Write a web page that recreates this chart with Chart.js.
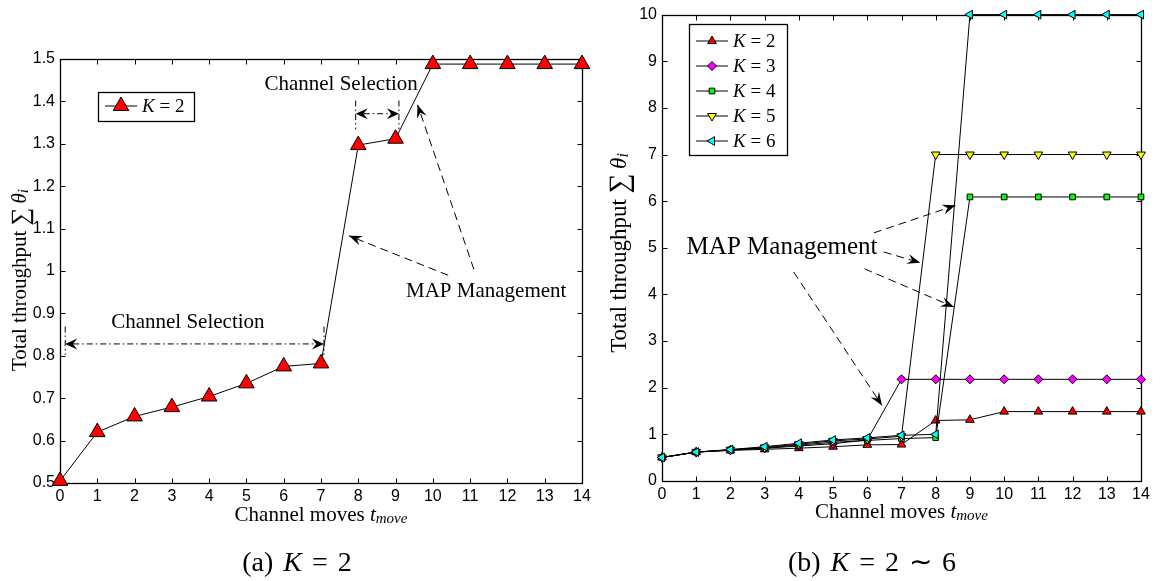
<!DOCTYPE html>
<html>
<head>
<meta charset="utf-8">
<script src="https://cdn.jsdelivr.net/npm/chart.js"></script>
<style>
  body { margin: 0; width: 1166px; height: 581px; background: #fff; position: relative; overflow: hidden; }
  canvas { position: absolute; top: 0; }
  #chartA { left: 0; }
  #chartB { left: 600px; }
  .cap { position: absolute; top: 547px; width: 300px; text-align: center; font-family: "Liberation Serif", serif; font-size: 28px; line-height: 30px; word-spacing: 3px; color: #000; }
</style>
</head>
<body>
<canvas id="chartA" width="600" height="581"></canvas>
<canvas id="chartB" width="566" height="581"></canvas>
<div class="cap" style="left:147px">(a) <i>K</i> = 2</div>
<div class="cap" style="left:722px">(b) <i>K</i> = 2 &#8764; 6</div>
<script>
// channel moves on the x axis
var moves = [0, 1, 2, 3, 4, 5, 6, 7, 8, 9, 10, 11, 12, 13, 14];
var yTicksA = [0.5, 0.6, 0.7, 0.8, 0.9, 1.0, 1.1, 1.2, 1.3, 1.4, 1.5];
var yTicksB = [0, 1, 2, 3, 4, 5, 6, 7, 8, 9, 10];

// total throughput per K
var k2 = [0.505, 0.62, 0.657, 0.679, 0.704, 0.735, 0.775, 0.782, 1.297, 1.312, 1.488, 1.488, 1.488, 1.488, 1.488];
var k3 = [0.505, 0.62, 0.66, 0.70, 0.75, 0.80, 0.88, 2.18, 2.18, 2.18, 2.18, 2.18, 2.18, 2.18, 2.18];
var k4 = [0.505, 0.62, 0.665, 0.71, 0.77, 0.83, 0.87, 0.91, 0.93, 6.09, 6.09, 6.09, 6.09, 6.09, 6.09];
var k5 = [0.505, 0.62, 0.67, 0.72, 0.79, 0.86, 0.90, 0.96, 7.0, 7.0, 7.0, 7.0, 7.0, 7.0, 7.0];
var k6 = [0.505, 0.62, 0.675, 0.735, 0.81, 0.88, 0.925, 0.98, 1.0, 10, 10, 10, 10, 10, 10];

var serif = '"Liberation Serif", serif';
Chart.defaults.font.family = '"Liberation Sans", Arial, sans-serif';
Chart.defaults.color = '#000';

function pts(vals) {
    return moves.map(function (m, i) { return { x: m, y: vals[i] }; });
}

function series(label, vals, fill, style, rot, r, order) {
    return {
        label: label, data: pts(vals), order: order,
        borderColor: '#000', borderWidth: 1, clip: false,
        pointStyle: style, pointRotation: rot, pointRadius: r,
        pointBackgroundColor: fill, pointBorderColor: '#000', pointBorderWidth: 1
    };
}

// draws parts of text one after another: [text, font, dy]
function richText(ctx, parts, x, y, align) {
    var w = 0;
    parts.forEach(function (p) { ctx.font = p[1]; w += ctx.measureText(p[0]).width; });
    var cx = align === 'center' ? x - w / 2 : x;
    ctx.textBaseline = 'middle';
    ctx.textAlign = 'left';
    parts.forEach(function (p) {
        ctx.font = p[1];
        ctx.fillText(p[0], cx, y + (p[2] || 0));
        cx += ctx.measureText(p[0]).width;
    });
}

function head(ctx, x0, y0, x1, y1, len, wid) {
    var a = Math.atan2(y1 - y0, x1 - x0);
    ctx.save();
    ctx.translate(x1, y1);
    ctx.rotate(a);
    ctx.setLineDash([]);
    ctx.beginPath();
    ctx.moveTo(0, 0);
    ctx.lineTo(-len, -wid / 2);
    ctx.lineTo(-len * 0.65, 0);
    ctx.lineTo(-len, wid / 2);
    ctx.closePath();
    ctx.fill();
    ctx.restore();
}

var decor = {
    id: 'decor',
    beforeDatasetsDraw: function (chart) {
        var ctx = chart.ctx, a = chart.chartArea;
        var sx = chart.scales.x, sy = chart.scales.y;
        var l = Math.round(a.left) + 0.5, r = Math.round(a.right) + 0.5;
        var t = Math.round(a.top) + 0.5, b = Math.round(a.bottom) + 0.5;
        ctx.save();
        ctx.strokeStyle = '#000';
        ctx.lineWidth = 1;
        ctx.beginPath();
        sx.ticks.forEach(function (tk) {
            var px = Math.round(sx.getPixelForValue(tk.value)) + 0.5;
            ctx.moveTo(px, b); ctx.lineTo(px, b - 5);
            ctx.moveTo(px, t); ctx.lineTo(px, t + 5);
        });
        sy.ticks.forEach(function (tk) {
            var py = Math.round(sy.getPixelForValue(tk.value)) + 0.5;
            ctx.moveTo(l, py); ctx.lineTo(l + 5, py);
            ctx.moveTo(r, py); ctx.lineTo(r - 5, py);
        });
        ctx.stroke();
        ctx.lineWidth = 1.3;
        ctx.strokeRect(l, t, r - l, b - t);
        ctx.restore();
    },
    afterDatasetsDraw: function (chart, args, o) {
        var ctx = chart.ctx, a = chart.chartArea;
        var sx = chart.scales.x, sy = chart.scales.y;
        var X = function (v) { return sx.getPixelForValue(v); };
        var Y = function (v) { return sy.getPixelForValue(v); };
        ctx.save();
        ctx.fillStyle = '#000';
        ctx.strokeStyle = '#000';
        ctx.lineWidth = 1;

        // dashed annotation arrows
        (o.arrows || []).forEach(function (ar) {
            var x0 = X(ar[0]), y0 = Y(ar[1]), x1 = X(ar[2]), y1 = Y(ar[3]);
            ctx.setLineDash([8, 5]);
            ctx.beginPath();
            ctx.moveTo(x0, y0);
            ctx.lineTo(x1, y1);
            ctx.stroke();
            head(ctx, x0, y0, x1, y1, 13, 10);
        });

        // dimension arrows (channel selection)
        (o.spans || []).forEach(function (sp) {
            var x0 = X(sp[0]), x1 = X(sp[1]), y = Y(sp[2]), yt = Y(sp[3]), yb = Y(sp[4]);
            ctx.setLineDash([6, 3, 1.5, 3]);
            ctx.beginPath();
            ctx.moveTo(x0, yt); ctx.lineTo(x0, yb);
            ctx.moveTo(x1, yt); ctx.lineTo(x1, yb);
            ctx.moveTo(x0 + 8, y); ctx.lineTo(x1 - 8, y);
            ctx.stroke();
            head(ctx, x1, y, x0, y, 12, 11);
            head(ctx, x0, y, x1, y, 12, 11);
        });

        // free text
        (o.texts || []).forEach(function (tx) {
            richText(ctx, [[tx[2], tx[3] + 'px ' + serif]], X(tx[0]), Y(tx[1]), 'center');
        });

        // legend box
        var lg = o.legend;
        ctx.setLineDash([]);
        ctx.fillStyle = '#fff';
        ctx.fillRect(lg.x, lg.y, lg.w, lg.h);
        ctx.lineWidth = 1.3;
        ctx.strokeRect(lg.x + 0.5, lg.y + 0.5, lg.w, lg.h);
        chart.data.datasets.forEach(function (ds, i) {
            var cy = lg.y + lg.first + i * lg.step;
            var lx = lg.x + 7, rx = lg.x + 7 + lg.line;
            ctx.strokeStyle = '#000';
            ctx.lineWidth = 1;
            ctx.beginPath();
            ctx.moveTo(lx, cy); ctx.lineTo(rx, cy);
            ctx.stroke();
            ctx.fillStyle = ds.pointBackgroundColor;
            Chart.helpers.drawPoint(ctx, {
                pointStyle: ds.pointStyle, rotation: ds.pointRotation,
                radius: ds.pointRadius, borderWidth: 1
            }, (lx + rx) / 2, cy);
            ctx.fillStyle = '#000';
            var parts = ds.label.split(' ');
            richText(ctx, [
                [parts[0], 'italic ' + lg.size + 'px ' + serif],
                [' ' + parts[1] + ' ' + parts[2], lg.size + 'px ' + serif]
            ], rx + 5, cy + 1, 'left');
        });

        // axis titles with subscripts
        var fs = o.titleSize;
        richText(ctx, [
            ['Channel moves ', fs + 'px ' + serif],
            ['t', 'italic ' + fs + 'px ' + serif],
            ['move', 'italic ' + Math.round(fs * 0.7) + 'px ' + serif, 4]
        ], (a.left + a.right) / 2, a.bottom + o.xTitleGap, 'center');

        var ys = o.yTitleSize;
        ctx.save();
        ctx.translate(o.yTitleX, o.yTitleY);
        ctx.rotate(-Math.PI / 2);
        richText(ctx, [
            ['Total throughput ', ys + 'px ' + serif],
            ['\u2211', Math.round(ys * 1.2) + 'px ' + serif, 1],
            ['\u2009\u03b8', 'italic ' + ys + 'px ' + serif],
            ['i', 'italic ' + Math.round(ys * 0.7) + 'px ' + serif, 4]
        ], 0, 0, 'center');
        ctx.restore();
        ctx.restore();
    }
};

function baseScales(yTicks, yMin, yMax, yw, xh, fmt) {
    return {
        x: {
            type: 'linear', min: 0, max: 14,
            afterBuildTicks: function (s) { s.ticks = moves.map(function (v) { return { value: v }; }); },
            afterFit: function (s) { s.height = xh; },
            grid: { display: false, drawTicks: false },
            border: { display: false },
            ticks: { font: { size: 16 }, padding: 4, autoSkip: false, maxRotation: 0 }
        },
        y: {
            type: 'linear', min: yMin, max: yMax,
            afterBuildTicks: function (s) { s.ticks = yTicks.map(function (v) { return { value: v }; }); },
            afterFit: function (s) { s.width = yw; },
            grid: { display: false, drawTicks: false },
            border: { display: false },
            ticks: { font: { size: 16 }, padding: 5, callback: fmt }
        }
    };
}

var chartA = new Chart(document.getElementById('chartA'), {
    type: 'line',
    data: {
        datasets: [series('K = 2', k2, '#ff0000', 'triangle', 0, 9, 1)]
    },
    options: {
        responsive: false,
        animation: false,
        events: [],
        layout: { padding: { left: 0, top: 59, right: 18, bottom: 0 } },
        scales: baseScales(yTicksA, 0.5, 1.5, 60, 98, function (v) { return String(+v.toFixed(1)); }),
        plugins: {
            legend: { display: false },
            tooltip: { enabled: false },
            decor: {
                arrows: [[10.41, 0.99, 7.75, 1.083], [11.10, 1.004, 9.59, 1.392]],
                spans: [[7.93, 9.09, 1.371, 1.402, 1.334], [0.14, 7.08, 0.828, 0.869, 0.802]],
                texts: [[7.54, 1.439, 'Channel Selection', 21], [3.43, 0.878, 'Channel Selection', 21], [11.43, 0.951, 'MAP Management', 21]],
                legend: { x: 98, y: 92, w: 96, h: 29, first: 14, step: 25, line: 32, size: 19 },
                titleSize: 21, xTitleGap: 32,
                yTitleSize: 21, yTitleX: 20, yTitleY: 280
            }
        }
    },
    plugins: [decor]
});

var chartB = new Chart(document.getElementById('chartB'), {
    type: 'line',
    data: {
        datasets: [
            series('K = 2', k2, '#ff0000', 'triangle', 0, 5, 5),
            series('K = 3', k3, '#ff00ff', 'rectRot', 0, 4.5, 4),
            series('K = 4', k4, '#00ff00', 'rect', 0, 4, 3),
            series('K = 5', k5, '#ffff00', 'triangle', 180, 5, 2),
            series('K = 6', k6, '#00ffff', 'triangle', -90, 5, 1)
        ]
    },
    options: {
        responsive: false,
        animation: false,
        events: [],
        layout: { padding: { left: 0, top: 12, right: 25, bottom: 0 } },
        scales: baseScales(yTicksB, 0, 10, 62, 100, function (v) { return String(v); }),
        plugins: {
            legend: { display: false },
            tooltip: { enabled: false },
            decor: {
                arrows: [[6.19, 5.32, 8.58, 5.91], [6.48, 4.91, 7.55, 4.68], [5.92, 4.55, 8.53, 3.73], [3.85, 4.48, 6.43, 1.62]],
                spans: [],
                texts: [[3.51, 5.0, 'MAP Management', 25]],
                legend: { x: 89, y: 24, w: 98, h: 131, first: 17, step: 25, line: 32, size: 19 },
                titleSize: 21, xTitleGap: 31,
                yTitleSize: 23, yTitleX: 20, yTitleY: 253
            }
        }
    },
    plugins: [decor]
});
</script>
</body>
</html>
